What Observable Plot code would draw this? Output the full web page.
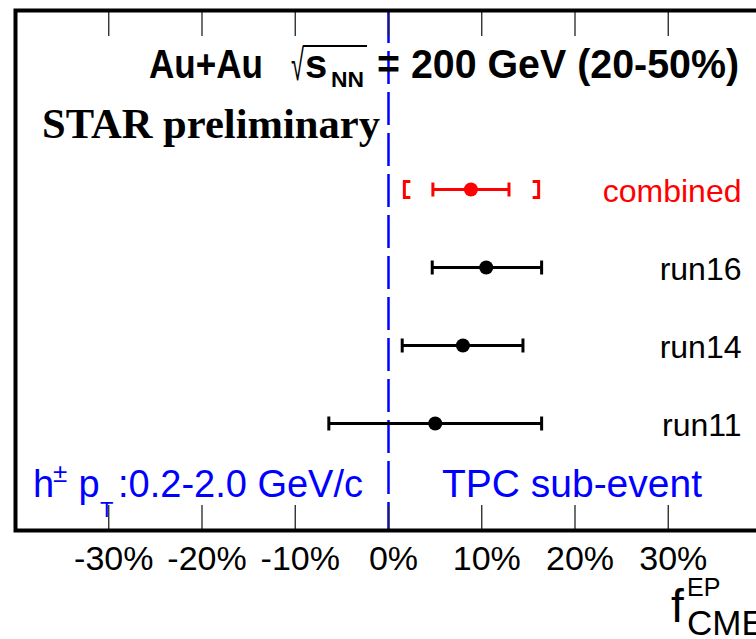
<!DOCTYPE html>
<html><head><meta charset="utf-8">
<script src="https://cdn.jsdelivr.net/npm/d3@7"></script>
<script src="https://cdn.jsdelivr.net/npm/@observablehq/plot@0.6"></script>
<style>html,body{margin:0;padding:0;background:#fff;overflow:hidden}</style>
</head><body><div id="chart"></div>
<script>
// ---- data ----
const names   = ["combined", "run16", "run14", "run11"];
const values  = [8.84, 10.48, 7.98, 5.01];     // f_CME^EP in %
const statLo  = [4.76, 4.69, 1.47, -6.4];
const statHi  = [12.92, 16.42, 14.42, 16.42];
const colors  = ["#ff0000", "black", "black", "black"];
const sysNames = ["combined"];
const sysLo   = [1.7];
const sysHi   = [16.1];
const xTicks  = [-30, -20, -10, 0, 10, 20, 30];
const xDomain = [-40, 40];

const rows = names.map((name, i) => ({name, value: values[i], lo: statLo[i], hi: statHi[i], color: colors[i]}));
const sys = sysNames.map((name, i) => ({name, lo: sysLo[i], hi: sysHi[i]}));

const W = 756, H = 639;
const sans = "'Liberation Sans', Arial, Helvetica, sans-serif";
const serif = "'Liberation Serif', 'Times New Roman', Times, serif";

const capSymbol = {draw(ctx) { ctx.moveTo(0, -7); ctx.lineTo(0, 7); }};
const leftBracket = {draw(ctx) { ctx.moveTo(6, -8); ctx.lineTo(0, -8); ctx.lineTo(0, 8); ctx.lineTo(6, 8); }};
const rightBracket = {draw(ctx) { ctx.moveTo(-6, -8); ctx.lineTo(0, -8); ctx.lineTo(0, 8); ctx.lineTo(-6, 8); }};

const plot = Plot.plot({
  width: W, height: H,
  marginLeft: 15, marginRight: -5, marginTop: 10, marginBottom: 109,
  style: {fontFamily: sans, background: "white", overflow: "visible"},
  x: {domain: xDomain, label: null},
  y: {type: "point", domain: names, range: [188.3, 423.3], padding: 0, axis: null},
  marks: [
    Plot.ruleX([0], {stroke: "#0000ff", strokeWidth: 2.5, strokeDasharray: "33,8"}),
    Plot.axisX(xTicks, {anchor: "top", tickSize: -25, tickFormat: () => "", stroke: "#222", strokeWidth: 1.3, label: null}),
    Plot.axisX(xTicks, {anchor: "bottom", tickSize: -25, tickFormat: () => "", stroke: "#222", strokeWidth: 1.3, label: null}),
    Plot.axisX(xTicks, {anchor: "bottom", tickSize: 0, tickPadding: 15, dx: 5, tickFormat: d => d + "%", fontSize: 34, fill: "black", label: null}),
    Plot.ruleY(rows, {y: "name", x1: "lo", x2: "hi", stroke: "color", strokeWidth: 3}),
    Plot.dot(rows, {x: "lo", y: "name", symbol: capSymbol, stroke: "color", strokeWidth: 3, fill: "none"}),
    Plot.dot(rows, {x: "hi", y: "name", symbol: capSymbol, stroke: "color", strokeWidth: 3, fill: "none"}),
    Plot.dot(sys, {x: "lo", y: "name", symbol: leftBracket, stroke: "#ff0000", strokeWidth: 3, fill: "none"}),
    Plot.dot(sys, {x: "hi", y: "name", symbol: rightBracket, stroke: "#ff0000", strokeWidth: 3, fill: "none"}),
    Plot.dot(rows, {x: "value", y: "name", r: 7, fill: "color", stroke: null}),
    Plot.text(rows, {y: "name", text: "name", frameAnchor: "right", dx: -20, dy: 2, textAnchor: "end", fontSize: 32, fill: "color"}),
    Plot.frame({stroke: "black", strokeWidth: 4})
  ]
});
document.getElementById("chart").appendChild(plot);

// ---- annotations ----
const svg = d3.select(plot);
function tx(parent, spans, common) {
  const t = parent.append("text").attr("font-family", common.family || sans)
    .attr("text-anchor", "start")
    .attr("fill", common.fill || "black").attr("font-weight", common.weight || "normal");
  for (const s of spans) {
    const ts = t.append("tspan").attr("x", s.x).attr("y", s.y).attr("font-size", s.size).text(s.t);
    if (s.len) ts.attr("textLength", s.len).attr("lengthAdjust", "spacingAndGlyphs");
    if (s.weight) ts.attr("font-weight", s.weight);
  }
  return t;
}
// title
tx(svg, [
  {t: "Au+Au", x: 149, y: 78, size: 40, len: 114},
  {t: "\u221A", x: 291, y: 80, size: 44, len: 13, weight: "normal"},
  {t: "s", x: 305, y: 78, size: 40},
  {t: "NN", x: 331, y: 87, size: 22, len: 33},
  {t: "= 200 GeV (20-50%)", x: 377, y: 78, size: 40, len: 362}
], {weight: "bold"});
svg.append("line").attr("x1", 303).attr("x2", 367).attr("y1", 46).attr("y2", 46)
  .attr("stroke", "black").attr("stroke-width", 2);
// STAR preliminary
tx(svg, [{t: "STAR preliminary", x: 42, y: 138, size: 42, len: 338}], {weight: "bold", family: serif});
// bottom labels
tx(svg, [
  {t: "h", x: 33, y: 497, size: 38},
  {t: "\u00B1", x: 53, y: 482, size: 26},
  {t: " p", x: 68, y: 497, size: 38},
  {t: "T", x: 100, y: 517, size: 22},
  {t: ":0.2-2.0 GeV/c", x: 118, y: 497, size: 38}
], {fill: "#0000ff"});
tx(svg, [{t: "TPC sub-event", x: 442, y: 497, size: 38, len: 260}], {fill: "#0000ff"});
// axis title
tx(svg, [
  {t: "f", x: 671, y: 622, size: 46},
  {t: "EP", x: 687, y: 596, size: 25},
  {t: "CME", x: 687, y: 635, size: 35}
], {});
</script>
</body></html>
